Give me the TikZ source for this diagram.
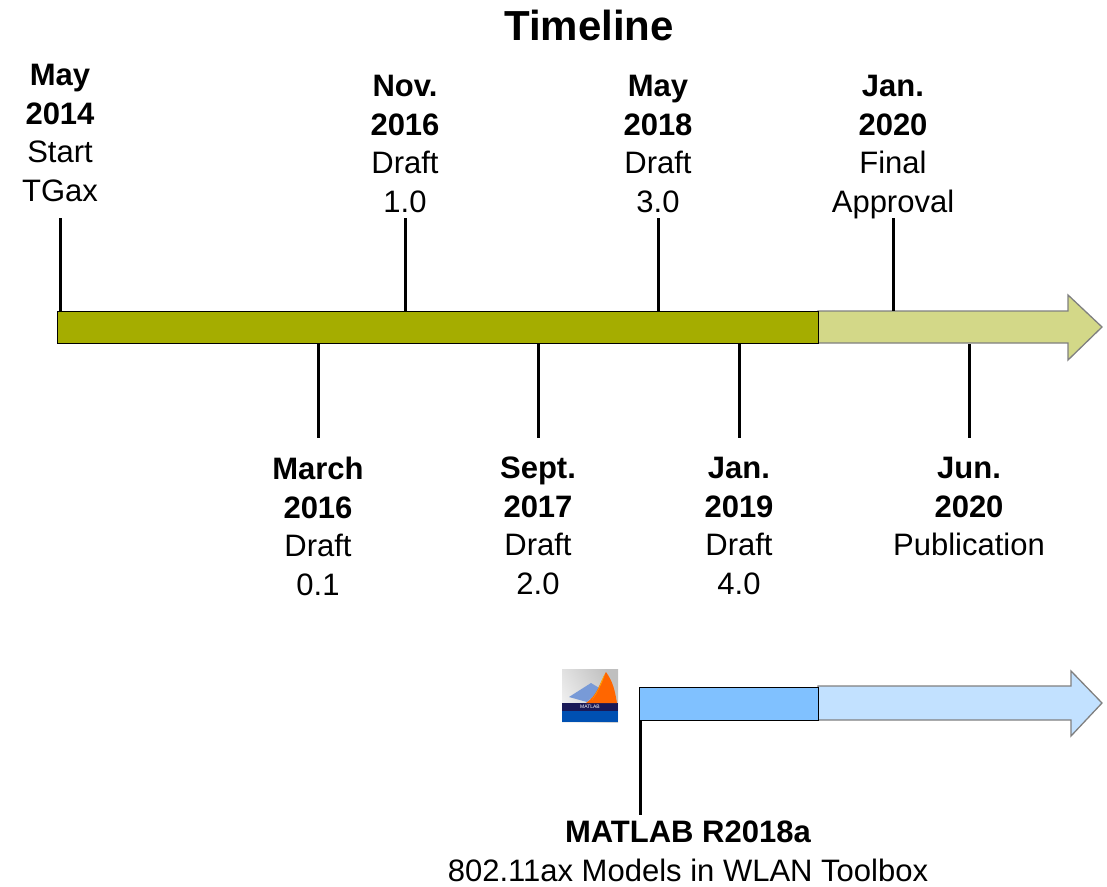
\documentclass[tikz,border=0pt]{standalone}
\usepackage{fontspec}
\setmainfont{Liberation Sans}
\definecolor{olivedark}{HTML}{A5AD00}
\definecolor{olivelight}{HTML}{D3D888}
\definecolor{bluedark}{HTML}{80C1FF}
\definecolor{bluelight}{HTML}{C2E1FF}
\definecolor{arrowgray}{HTML}{808080}
\tikzset{
  lbl/.style={align=center, anchor=north, inner sep=0pt, font=\fontsize{31}{38.5}\selectfont},
  tick/.style={line width=3pt},
  barbox/.style={draw, line width=1.3pt, inner sep=0pt, anchor=north west},
  lightarrow/.style={draw=arrowgray, line width=1.3pt, line join=miter}
}
\begin{document}
\begin{tikzpicture}[x=1pt,y=-1pt]
  \useasboundingbox (0,0) rectangle (1107,886);
  \node[inner sep=0pt, anchor=north, font=\fontsize{42}{50}\selectfont\bfseries] (title) at (589,10) {Timeline};
  % standard timeline
  \filldraw[lightarrow, fill=olivelight] (818,311) -- (1068,311) -- (1068,295) -- (1102,327) -- (1068,360) -- (1068,343) -- (818,343) -- cycle;
  \node[barbox, fill=olivedark, minimum width=761pt, minimum height=32pt] (bar) at (57,311) {};
  \node[lbl] (may14) at (60,64) {\textbf{May}\\\textbf{2014}\\Start\\TGax};
  \node[lbl] (nov16) at (405,75) {\textbf{Nov.}\\\textbf{2016}\\Draft\\1.0};
  \node[lbl] (may18) at (658,75) {\textbf{May}\\\textbf{2018}\\Draft\\3.0};
  \node[lbl] (jan20) at (893,75) {\textbf{Jan.}\\\textbf{2020}\\Final\\Approval};
  \node[lbl] (mar16) at (318,457) {\textbf{March}\\\textbf{2016}\\Draft\\0.1};
  \node[lbl] (sep17) at (538,457) {\textbf{Sept.}\\\textbf{2017}\\Draft\\2.0};
  \node[lbl] (jan19) at (739,457) {\textbf{Jan.}\\\textbf{2019}\\Draft\\4.0};
  \node[lbl] (jun20) at (969,457) {\textbf{Jun.}\\\textbf{2020}\\Publication};
  \foreach \n in {may14,nov16,may18,jan20}
    \draw[tick] (\n.south |- 0,218) -- (\n.south |- bar.north);
  \foreach \n in {mar16,sep17,jan19,jun20}
    \draw[tick] (\n.north |- bar.south) -- (\n.north |- 0,438);
  % matlab release
  \filldraw[lightarrow, fill=bluelight] (818,686) -- (1071,686) -- (1071,671) -- (1102,703) -- (1071,736) -- (1071,720) -- (818,720) -- cycle;
  \node[barbox, fill=bluedark, minimum width=179pt, minimum height=33pt] (mbar) at (639,687) {};
  \node[lbl] (matlab) at (688,821) {\textbf{MATLAB R2018a}\\802.11ax Models in WLAN Toolbox};
  \draw[tick, shorten >=6pt] ([xshift=1.5pt]mbar.south west) -- ([xshift=1.5pt]mbar.south west |- matlab.north);
  % icon
  \node[inner sep=0pt, minimum width=56pt, minimum height=53pt, shading=axis, left color=gray!12, right color=gray!50, shading angle=120] (icon) at (590,695.5) {};
  \fill[blue!55!cyan!70!black] (562,711) rectangle (618,722);
  \fill[black!70!blue!80!gray] (562,703) rectangle (618,711);
  \fill[cyan!45!blue!55] (569,697) -- (591,683) -- (601,689) -- (587,702) -- cycle;
  \fill[orange!80!red] (586,703) to[out=35,in=240] (606,672) to[out=-55,in=100] (617,703) -- cycle;
  \fill[orange!55!yellow] (598,690) to[out=65,in=240] (605,674) to[out=250,in=55] (592,700) -- cycle;
  \node[inner sep=0pt, text=white, font=\fontsize{5}{5}\selectfont] (iconname) at (590,707) {MATLAB};
\end{tikzpicture}
\end{document}
